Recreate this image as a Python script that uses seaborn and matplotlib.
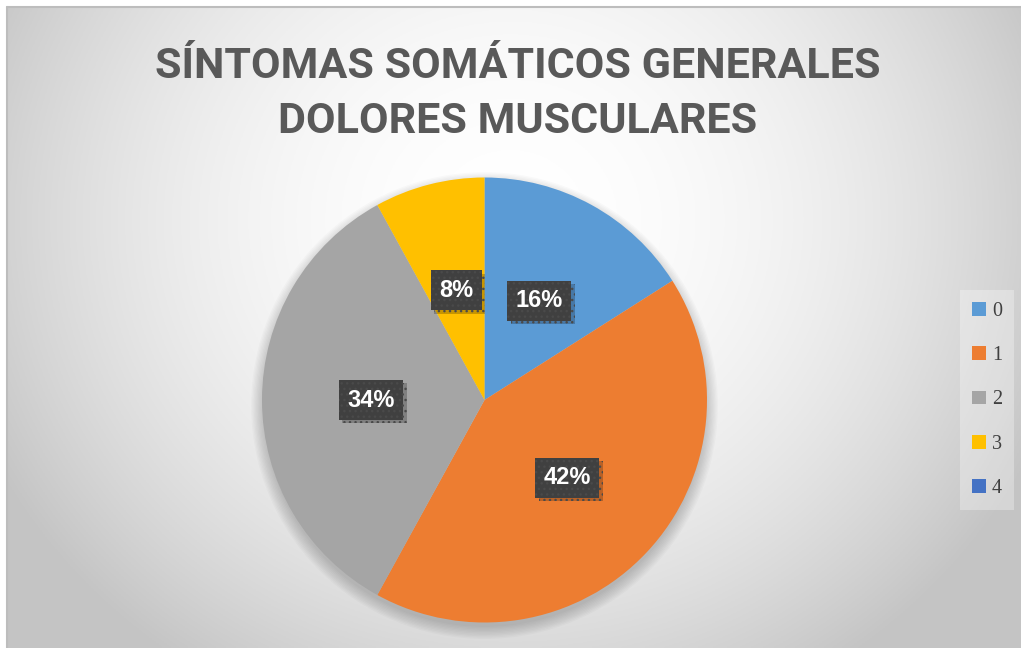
import numpy as np
import matplotlib
matplotlib.use("Agg")
import matplotlib.pyplot as plt
import matplotlib.patheffects as pe
from matplotlib.patches import Circle, Rectangle
import seaborn as sns

# ---- data ----
title_lines = ["SÍNTOMAS SOMÁTICOS GENERALES", "DOLORES MUSCULARES"]
categories = ["0", "1", "2", "3", "4"]
values = [16, 42, 34, 8, 0]
colors = ["#5B9BD5", "#ED7D31", "#A5A5A5", "#FFC000", "#4472C4"]

sns.set_theme(style="white")
plt.rcParams["font.family"] = ["Liberation Sans", "DejaVu Sans"]
palette = sns.color_palette(colors)

W, H = 1021, 648
fig = plt.figure(figsize=(W / 100, H / 100), dpi=100)
fig.patch.set_facecolor("white")

# ---- background radial gradient (chart area) ----
bg = fig.add_axes([7 / W, 0, 1 - 7 / W, 1 - 7 / H])
bg.set_axis_off()
nx, ny = 400, 260
xs = np.linspace(7, W, nx)
ys = np.linspace(7, H, ny)
X, Y = np.meshgrid(xs, ys)
t = np.sqrt(((X - 510) / 580) ** 2 + ((Y - 220) / 540) ** 2)
t = np.clip(t, 0, 1) ** 2
g = 1.0 - (1.0 - 0.77) * t
img = np.dstack([g, g, g])
bg.imshow(img, extent=[0, 1, 0, 1], aspect="auto", origin="upper")
bg.set_xlim(0, 1)
bg.set_ylim(0, 1)
bg.plot([0, 0], [0, 1], color="#bdbdbd", lw=1.5, transform=bg.transAxes, clip_on=False)
bg.plot([0, 1], [1, 1], color="#bdbdbd", lw=1.5, transform=bg.transAxes, clip_on=False)

# ---- pie ----
cx, cy, r = 484.5, 400, 222.5
ax = fig.add_axes([(cx - r) / W, (H - cy - r) / H, 2 * r / W, 2 * r / H])
ax.set_facecolor("none")

# soft shadow under the pie
for i in range(10):
    sh = Circle((0, -0.025), 0.995 + 0.006 * i, color="black", alpha=0.02,
                zorder=0, clip_on=False, lw=0)
    ax.add_patch(sh)


def pct(p):
    return "" if p < 0.5 else f"{p:.0f}%"


wedges, texts, autotexts = ax.pie(
    values, colors=palette, startangle=90, counterclock=False,
    autopct=pct, pctdistance=0.51, radius=1.0,
    wedgeprops=dict(linewidth=0, zorder=2),
    textprops=dict(color="white", fontsize=17, fontweight="bold",
                   family=["Liberation Sans", "DejaVu Sans"]),
)
ax.set_xlim(-1, 1)
ax.set_ylim(-1, 1)
ax.set_aspect("auto")

for at in autotexts:
    at.set_zorder(5)
    at.set_bbox(dict(boxstyle="square,pad=0.36", facecolor="#404040",
                     edgecolor="#4a4a4a", linewidth=0, hatch="..."))
    bp = at.get_bbox_patch()
    bp.set_path_effects([pe.SimplePatchShadow(offset=(2.5, -2.5), shadow_rgbFace="black",
                                              alpha=0.22), pe.Normal()])

# ---- title ----
title_font = ["Roboto", "Liberation Sans", "DejaVu Sans"]
fig.text(518 / W, 1 - 78 / H, title_lines[0], ha="center", va="baseline",
         fontsize=31, fontweight="bold", color="#595959", family=title_font)
fig.text(518 / W, 1 - 133 / H, title_lines[1], ha="center", va="baseline",
         fontsize=31, fontweight="bold", color="#595959", family=title_font)

# ---- legend ----
handles = [Rectangle((0, 0), 1, 1, facecolor=c, edgecolor="none") for c in palette]
leg = fig.legend(handles, categories, loc="center left",
                 bbox_to_anchor=(960 / W, 1 - 400 / H), frameon=True,
                 prop=dict(family=["Liberation Serif", "DejaVu Serif"], size=14.5),
                 handlelength=0.68, handleheight=0.68, handletextpad=0.3,
                 labelspacing=1.25, borderpad=0.6, borderaxespad=0.0,
                 framealpha=0.3, facecolor="white", edgecolor="none", fancybox=False)
for txt in leg.get_texts():
    txt.set_color("#404040")

fig.savefig("out.png", dpi=100)
